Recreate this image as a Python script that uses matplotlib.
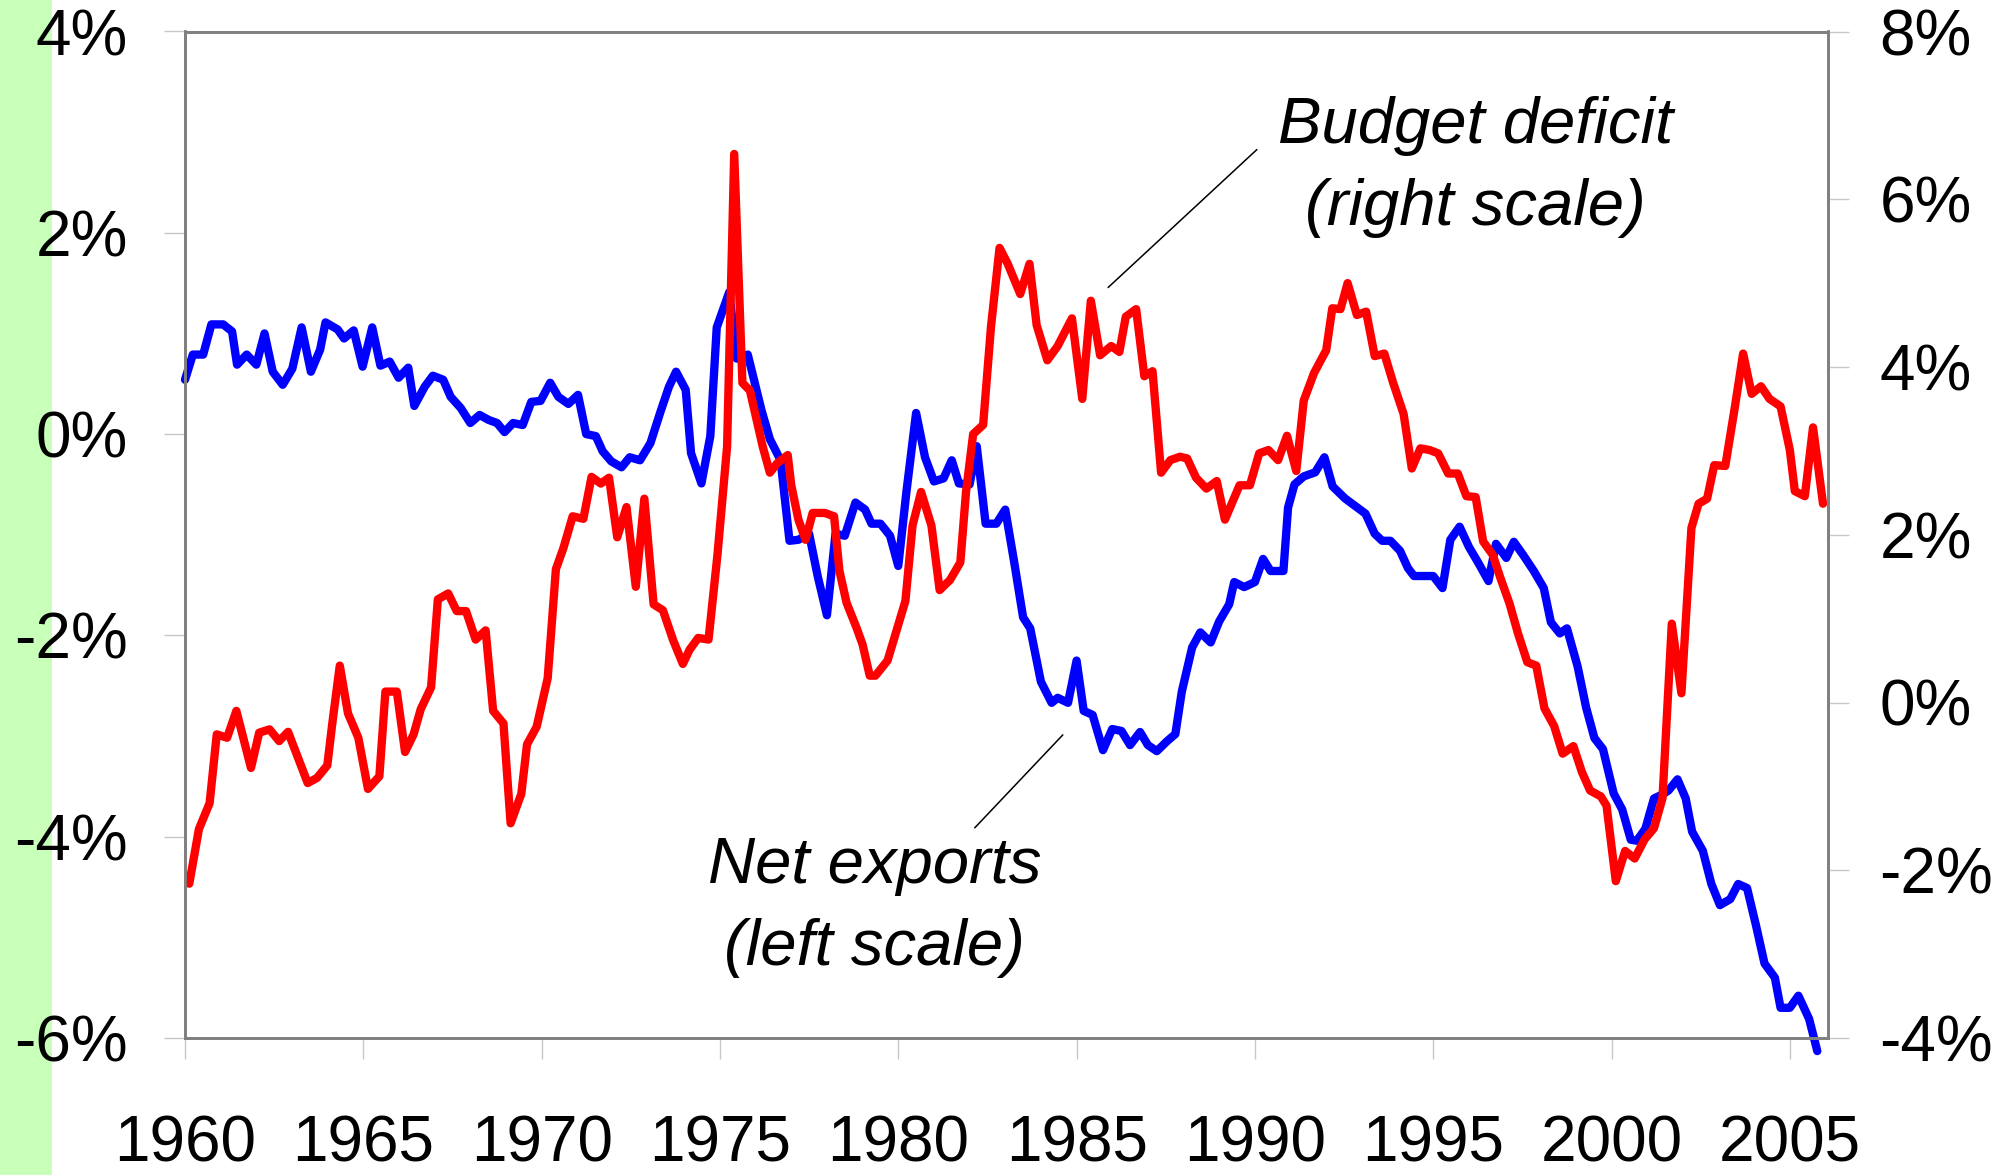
import matplotlib
matplotlib.use("Agg")
import matplotlib.pyplot as plt
from matplotlib.patches import Rectangle

plt.rcParams['font.family'] = ['Liberation Sans', 'DejaVu Sans']

# net exports, % of GDP (left scale)
net_exports_years = [
    1960.0, 1960.22, 1960.51, 1960.74, 1961.07, 1961.32, 1961.46, 1961.73, 1962.0, 1962.23,
    1962.46, 1962.74, 1963.01, 1963.27, 1963.53, 1963.79, 1963.94, 1964.28, 1964.46, 1964.73,
    1964.98, 1965.25, 1965.48, 1965.74, 1965.99, 1966.26, 1966.43, 1966.72, 1966.95, 1967.24,
    1967.45, 1967.73, 1968.0, 1968.26, 1968.52, 1968.75, 1968.96, 1969.2, 1969.47, 1969.71,
    1969.97, 1970.24, 1970.47, 1970.75, 1971.02, 1971.25, 1971.52, 1971.71, 1971.95, 1972.24,
    1972.47, 1972.76, 1973.05, 1973.34, 1973.57, 1973.77, 1974.04, 1974.19, 1974.48, 1974.73,
    1974.91, 1975.26, 1975.47, 1975.78, 1976.17, 1976.4, 1976.7, 1976.95, 1977.2, 1977.5,
    1977.74, 1978.0, 1978.24, 1978.5, 1978.8, 1979.07, 1979.25, 1979.5, 1979.77, 1980.0,
    1980.23, 1980.5, 1980.75, 1981.0, 1981.27, 1981.5, 1981.7, 1982.0, 1982.2, 1982.45,
    1982.75, 1983.0, 1983.25, 1983.5, 1983.7, 1984.0, 1984.3, 1984.47, 1984.76, 1985.0,
    1985.2, 1985.45, 1985.74, 1986.0, 1986.26, 1986.5, 1986.78, 1987.0, 1987.25, 1987.54,
    1987.77, 1987.95, 1988.24, 1988.47, 1988.76, 1989.0, 1989.28, 1989.42, 1989.7, 1990.0,
    1990.23, 1990.44, 1990.8, 1990.93, 1991.11, 1991.37, 1991.69, 1991.95, 1992.18, 1992.53,
    1993.1, 1993.36, 1993.57, 1993.8, 1994.07, 1994.29, 1994.46, 1994.74, 1995.0, 1995.26,
    1995.48, 1995.74, 1996.0, 1996.25, 1996.55, 1996.76, 1997.05, 1997.26, 1997.52, 1997.82,
    1998.1, 1998.3, 1998.55, 1998.75, 1999.05, 1999.29, 1999.52, 1999.76, 2000.06, 2000.3,
    2000.54, 2000.71, 2000.95, 2001.19, 2001.43, 2001.6, 2001.85, 2002.08, 2002.26, 2002.56,
    2002.8, 2003.04, 2003.33, 2003.55, 2003.8, 2004.05, 2004.29, 2004.58, 2004.74, 2005.0,
    2005.24, 2005.54, 2005.77,
]
net_exports = [
    0.54, 0.79, 0.79, 1.09, 1.09, 1.02, 0.69, 0.79, 0.69, 1.0,
    0.62, 0.49, 0.65, 1.06, 0.62, 0.84, 1.11, 1.04, 0.95, 1.03,
    0.67, 1.06, 0.68, 0.72, 0.56, 0.66, 0.28, 0.47, 0.58, 0.54,
    0.37, 0.26, 0.11, 0.19, 0.14, 0.11, 0.02, 0.11, 0.09, 0.32,
    0.33, 0.51, 0.37, 0.30, 0.39, 0.0, -0.02, -0.17, -0.27, -0.33,
    -0.23, -0.26, -0.09, 0.23, 0.47, 0.62, 0.44, -0.19, -0.49, -0.02,
    1.06, 1.41, 0.75, 0.79, 0.23, -0.05, -0.26, -1.06, -1.05, -0.99,
    -1.41, -1.80, -0.99, -1.01, -0.68, -0.75, -0.89, -0.89, -1.01, -1.31,
    -0.57, 0.21, -0.23, -0.47, -0.44, -0.26, -0.49, -0.50, -0.12, -0.89,
    -0.89, -0.75, -1.27, -1.82, -1.93, -2.46, -2.67, -2.62, -2.67, -2.25,
    -2.75, -2.79, -3.14, -2.93, -2.95, -3.09, -2.96, -3.09, -3.15, -3.05,
    -2.98, -2.56, -2.12, -1.97, -2.07, -1.86, -1.69, -1.47, -1.52, -1.47,
    -1.24, -1.36, -1.36, -0.73, -0.50, -0.42, -0.38, -0.23, -0.52, -0.64,
    -0.79, -0.99, -1.06, -1.06, -1.16, -1.33, -1.41, -1.41, -1.41, -1.53,
    -1.05, -0.92, -1.12, -1.27, -1.46, -1.09, -1.23, -1.07, -1.20, -1.36,
    -1.53, -1.87, -1.98, -1.93, -2.31, -2.72, -3.02, -3.13, -3.57, -3.73,
    -4.03, -4.04, -3.92, -3.62, -3.58, -3.54, -3.43, -3.62, -3.95, -4.14,
    -4.47, -4.68, -4.62, -4.47, -4.51, -4.88, -5.26, -5.40, -5.70, -5.70,
    -5.58, -5.81, -6.13,
]

# budget deficit, % of GDP (right scale)
deficit_years = [
    1960.12, 1960.39, 1960.69, 1960.89, 1961.18, 1961.44, 1961.85, 1962.08, 1962.37, 1962.64,
    1962.89, 1963.16, 1963.44, 1963.7, 1963.99, 1964.13, 1964.34, 1964.57, 1964.86, 1965.13,
    1965.45, 1965.62, 1965.94, 1966.17, 1966.41, 1966.61, 1966.9, 1967.09, 1967.38, 1967.62,
    1967.88, 1968.15, 1968.43, 1968.64, 1968.93, 1969.13, 1969.43, 1969.59, 1969.86, 1970.17,
    1970.4, 1970.61, 1970.87, 1971.17, 1971.4, 1971.66, 1971.89, 1972.12, 1972.38, 1972.64,
    1972.88, 1973.14, 1973.4, 1973.69, 1973.96, 1974.15, 1974.39, 1974.68, 1974.93, 1975.2,
    1975.4, 1975.63, 1975.84, 1976.2, 1976.4, 1976.6, 1976.9, 1977.0, 1977.2, 1977.4,
    1977.6, 1977.94, 1978.2, 1978.35, 1978.55, 1978.84, 1979.0, 1979.2, 1979.36, 1979.7,
    1979.94, 1980.2, 1980.4, 1980.64, 1980.93, 1981.16, 1981.45, 1981.74, 1981.9, 1982.1,
    1982.38, 1982.6, 1982.84, 1983.07, 1983.42, 1983.68, 1983.88, 1984.18, 1984.47, 1984.87,
    1985.16, 1985.4, 1985.66, 1985.97, 1986.2, 1986.38, 1986.67, 1986.9, 1987.13, 1987.37,
    1987.63, 1987.9, 1988.1, 1988.35, 1988.64, 1988.93, 1989.16, 1989.57, 1989.86, 1990.12,
    1990.38, 1990.65, 1990.9, 1991.16, 1991.37, 1991.66, 1992.0, 1992.17, 1992.4, 1992.6,
    1992.86, 1993.12, 1993.36, 1993.63, 1993.87, 1994.17, 1994.4, 1994.64, 1994.9, 1995.14,
    1995.42, 1995.69, 1995.93, 1996.19, 1996.4, 1996.67, 1996.88, 1997.14, 1997.38, 1997.64,
    1997.89, 1998.12, 1998.39, 1998.63, 1998.93, 1999.17, 1999.4, 1999.7, 1999.86, 2000.12,
    2000.38, 2000.65, 2000.93, 2001.19, 2001.43, 2001.69, 2001.96, 2002.24, 2002.44, 2002.68,
    2002.88, 2003.19, 2003.45, 2003.69, 2003.93, 2004.19, 2004.43, 2004.74, 2005.0, 2005.14,
    2005.42, 2005.65, 2005.93,
]
budget_deficit = [
    -2.16, -1.51, -1.20, -0.38, -0.42, -0.10, -0.78, -0.36, -0.32, -0.46,
    -0.35, -0.65, -0.96, -0.90, -0.75, -0.25, 0.44, -0.13, -0.42, -1.03,
    -0.88, 0.13, 0.13, -0.59, -0.38, -0.08, 0.18, 1.23, 1.30, 1.09,
    1.09, 0.75, 0.86, -0.10, -0.25, -1.44, -1.09, -0.50, -0.29, 0.29,
    1.59, 1.84, 2.22, 2.19, 2.69, 2.61, 2.68, 1.97, 2.33, 1.38,
    2.43, 1.17, 1.10, 0.74, 0.46, 0.63, 0.77, 0.75, 1.76, 3.05,
    6.54, 3.81, 3.72, 3.05, 2.74, 2.85, 2.95, 2.59, 2.18, 1.94,
    2.26, 2.26, 2.22, 1.57, 1.19, 0.88, 0.69, 0.32, 0.32, 0.50,
    0.84, 1.21, 2.11, 2.51, 2.11, 1.34, 1.46, 1.67, 2.51, 3.20,
    3.31, 4.48, 5.42, 5.23, 4.87, 5.23, 4.50, 4.08, 4.25, 4.58,
    3.62, 4.79, 4.14, 4.25, 4.18, 4.60, 4.69, 3.89, 3.95, 2.74,
    2.89, 2.93, 2.91, 2.68, 2.55, 2.64, 2.18, 2.59, 2.59, 2.97,
    3.01, 2.89, 3.18, 2.76, 3.60, 3.93, 4.20, 4.70, 4.69, 5.0,
    4.62, 4.66, 4.13, 4.16, 3.82, 3.44, 2.79, 3.03, 3.01, 2.97,
    2.73, 2.73, 2.46, 2.45, 1.92, 1.76, 1.49, 1.18, 0.82, 0.48,
    0.44, -0.07, -0.28, -0.61, -0.52, -0.83, -1.05, -1.12, -1.23, -2.13,
    -1.77, -1.86, -1.63, -1.50, -1.14, 0.94, 0.11, 2.08, 2.37, 2.43,
    2.83, 2.82, 3.50, 4.16, 3.68, 3.77, 3.62, 3.53, 3.01, 2.52,
    2.46, 3.28, 2.37,
]

year_ticks = [1960, 1965, 1970, 1975, 1980, 1985, 1990, 1995, 2000, 2005]
left_ticks = [-6, -4, -2, 0, 2, 4]
right_ticks = [-4, -2, 0, 2, 4, 6, 8]

W, H = 2015, 1175
fig = plt.figure(figsize=(W / 100, H / 100), dpi=100)
# light green strip down the left edge, behind the tick labels
fig.patches.append(Rectangle((0, 0), 52 / W, 1, transform=fig.transFigure,
                             facecolor='#c8ffb9', edgecolor='none', zorder=-10))

ax = fig.add_axes([185 / W, 137 / H, 1643 / W, 1006.5 / H])
ax.patch.set_alpha(0)
ax2 = ax.twinx()

ax.plot(net_exports_years, net_exports, color='#0000ff', lw=6,
        solid_joinstyle='round', solid_capstyle='round', clip_on=False)
ax2.plot(deficit_years, budget_deficit, color='#ff0000', lw=6,
         solid_joinstyle='round', solid_capstyle='round', clip_on=False)

ax.set_xlim(1960, 2006.07)
ax.set_ylim(-6, 4)
ax2.set_ylim(-4, 8)

ax.set_xticks(year_ticks)
ax.set_xticklabels([str(y) for y in year_ticks])
ax.set_yticks(left_ticks)
ax.set_yticklabels([f"{v}%" for v in left_ticks])
ax2.set_yticks(right_ticks)
ax2.set_yticklabels([f"{v}%" for v in right_ticks])

for a in (ax, ax2):
    for s in a.spines.values():
        s.set_color('#808080')
        s.set_linewidth(2)
ax.tick_params(axis='x', direction='out', length=15, width=1, color='#c8c8c8',
               labelsize=46, pad=40)
ax.tick_params(axis='y', direction='out', length=15, width=1, color='#c8c8c8',
               labelsize=46, pad=26)
ax2.tick_params(axis='y', direction='out', length=15, width=1, color='#c8c8c8',
                labelsize=46, pad=22)

# labels and leader lines
ax.text(1979.34, -4.46, "Net exports", fontsize=47, style='italic', ha='center', va='baseline')
ax.text(1979.34, -5.27, "(left scale)", fontsize=47, style='italic', ha='center', va='baseline')
ax.plot([1982.15, 1984.61], [-3.91, -2.99], color='black', lw=1.1)

ax.text(1996.19, 2.89, "Budget deficit", fontsize=47, style='italic', ha='center', va='baseline')
ax.text(1996.19, 2.08, "(right scale)", fontsize=47, style='italic', ha='center', va='baseline')
ax2.plot([1985.89, 1990.05], [4.95, 6.59], color='black', lw=1.1)

fig.savefig("out.png", dpi=100)
